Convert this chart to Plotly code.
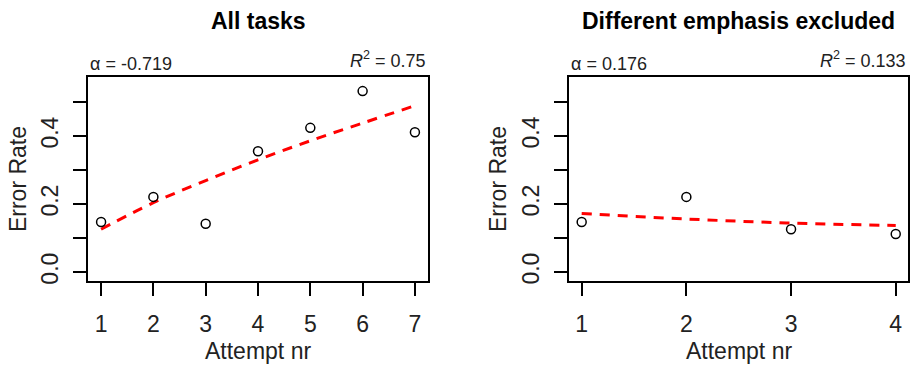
import plotly.graph_objects as go

# Data
attempts_all = [1, 2, 3, 4, 5, 6, 7]
error_all = [0.147, 0.221, 0.142, 0.355, 0.424, 0.532, 0.411]
fit_all = [0.126, 0.204, 0.269, 0.330, 0.386, 0.438, 0.489]

attempts_excl = [1, 2, 3, 4]
error_excl = [0.147, 0.221, 0.126, 0.112]
fit_excl = [0.172, 0.156, 0.144, 0.137]

titles = ["All tasks", "Different emphasis excluded"]
alpha_labels = ["α = -0.719", "α = 0.176"]
r2_labels = ["<i>R</i><sup>2</sup> = 0.75", "<i>R</i><sup>2</sup> = 0.133"]

W, H = 913, 369
FONT = "Liberation Sans, Arial, sans-serif"

fig = go.Figure()

panels = [
    dict(x=attempts_all, y=error_all, fit=fit_all, xref="x", yref="y",
         px=(88, 428), xr=[0.75, 7.25], ylab_x=18),
    dict(x=attempts_excl, y=error_excl, fit=fit_excl, xref="x2", yref="y2",
         px=(568.7, 908.3), xr=[0.876, 4.12], ylab_x=498),
]

top_px, bot_px = 78, 284
ydom = [1 - bot_px / H, 1 - top_px / H]

layout_axes = {}
annotations = []
for i, p in enumerate(panels):
    fig.add_trace(go.Scatter(
        x=p["x"], y=p["fit"], mode="lines", xaxis=p["xref"], yaxis=p["yref"],
        line=dict(color="red", width=3, dash="10px,8px", shape="spline"),
        showlegend=False, hoverinfo="skip"))
    fig.add_trace(go.Scatter(
        x=p["x"], y=p["y"], mode="markers", xaxis=p["xref"], yaxis=p["yref"],
        marker=dict(symbol="circle-open", size=9, color="black",
                    line=dict(width=1.5, color="black")),
        showlegend=False))
    sfx = "" if i == 0 else str(i + 1)
    x0, x1 = p["px"]
    common = dict(showgrid=False, zeroline=False, showline=True, mirror=True,
                  linecolor="black", linewidth=1.5, ticks="outside", ticklen=13,
                  tickwidth=1.5, tickcolor="black",
                  tickfont=dict(family=FONT, size=23, color="#222"))
    layout_axes["xaxis" + sfx] = dict(
        domain=[x0 / W, x1 / W], range=p["xr"], tickvals=p["x"],
        anchor="y" + sfx, ticklabelstandoff=9, **common)
    layout_axes["yaxis" + sfx] = dict(
        domain=ydom, range=[-0.026, 0.573], tick0=0, dtick=0.2, tickformat=".1f",
        minor=dict(tick0=0, dtick=0.1, ticks="outside", ticklen=13,
                   tickwidth=1.5, tickcolor="black", showgrid=False),
        tickangle=-90, anchor="x" + sfx, ticklabelstandoff=6, **common)

    cx = (x0 + x1) / 2 / W
    annotations.append(dict(text="<b>" + titles[i] + "</b>", x=cx, y=1 - 21.5 / H,
                            xref="paper", yref="paper", showarrow=False,
                            xanchor="center", yanchor="middle",
                            font=dict(family=FONT, size=23, color="black")))
    annotations.append(dict(text=alpha_labels[i], x=x0 / W, y=1 - 65 / H,
                            xref="paper", yref="paper", showarrow=False,
                            xanchor="left", yanchor="middle",
                            font=dict(family=FONT, size=18, color="#222")))
    annotations.append(dict(text=r2_labels[i], x=x1 / W, y=1 - 74 / H,
                            xref="paper", yref="paper", showarrow=False,
                            xanchor="right", yanchor="bottom",
                            font=dict(family=FONT, size=18, color="#222")))
    annotations.append(dict(text="Attempt nr", x=cx, y=1 - 355 / H,
                            xref="paper", yref="paper", showarrow=False,
                            xanchor="center", yanchor="middle",
                            font=dict(family=FONT, size=23, color="#222")))
    annotations.append(dict(text="Error Rate", x=p["ylab_x"] / W,
                            y=1 - (top_px + bot_px) / 2 / H,
                            xref="paper", yref="paper", showarrow=False,
                            xanchor="center", yanchor="middle", textangle=-90,
                            font=dict(family=FONT, size=23, color="#222")))

fig.update_layout(width=W, height=H, margin=dict(l=0, r=0, t=0, b=0),
                  paper_bgcolor="white", plot_bgcolor="white",
                  annotations=annotations, **layout_axes)

fig.write_html("out.html", config={"displayModeBar": False},
               post_script="document.body.style.margin='0px';document.body.style.overflow='hidden';")
